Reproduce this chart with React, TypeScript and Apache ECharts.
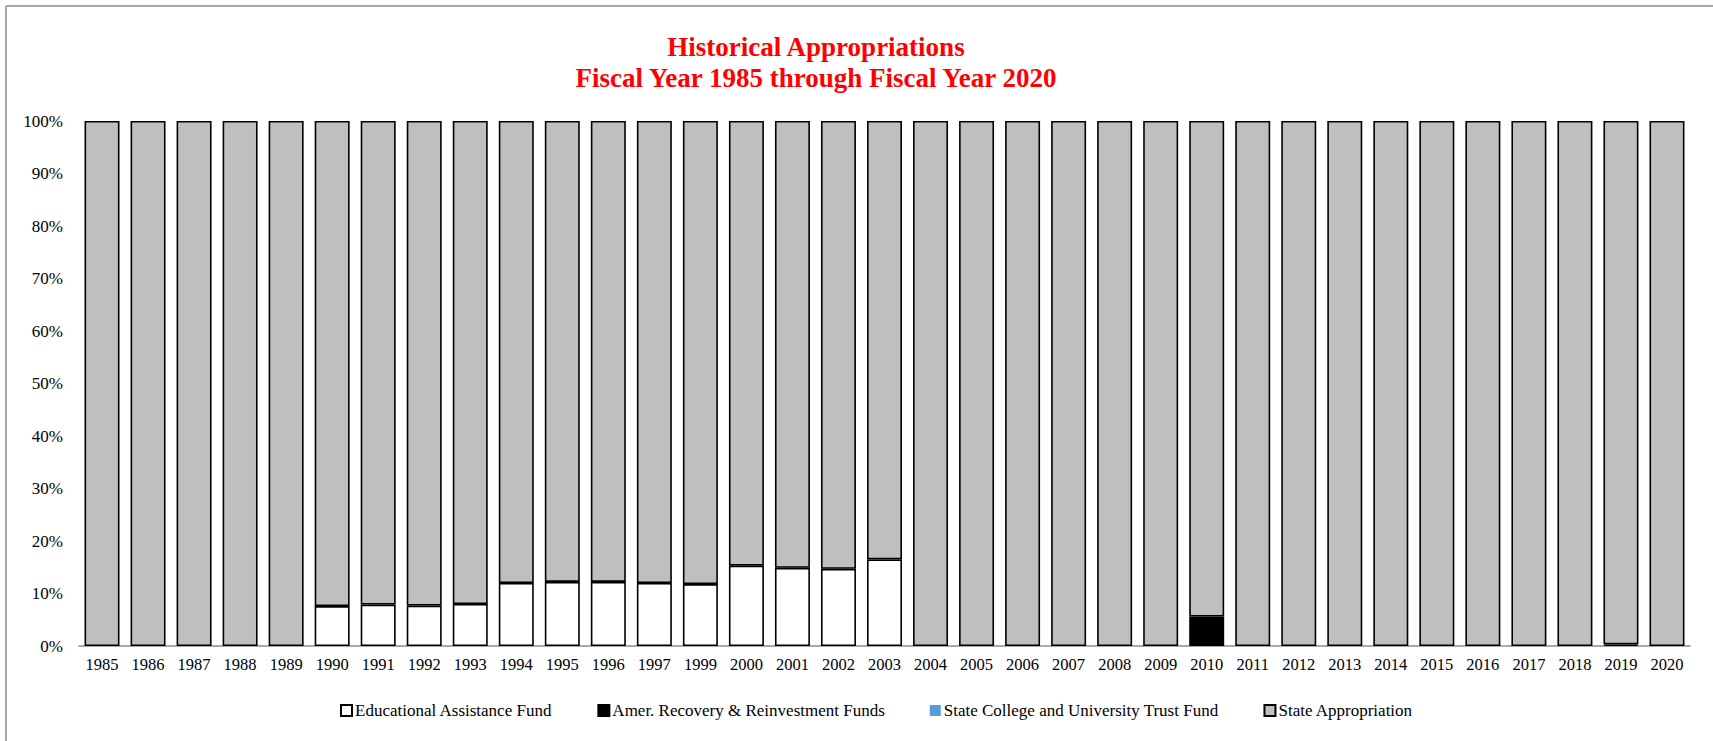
import React, { useEffect, useRef } from "react";
import * as echarts from "echarts";

const years = [
  "1985", "1986", "1987", "1988", "1989", "1990", "1991", "1992", "1993", "1994",
  "1995", "1996", "1997", "1999", "2000", "2001", "2002", "2003", "2004", "2005",
  "2006", "2007", "2008", "2009", "2010", "2011", "2012", "2013", "2014", "2015",
  "2016", "2017", "2018", "2019", "2020",
];

// percent shares of total appropriation
const educationalAssistance = [
  0, 0, 0, 0, 0, 7.6, 7.9, 7.7, 8.0, 12.0,
  12.2, 12.2, 12.0, 11.8, 15.3, 14.9, 14.7, 16.5, 0, 0,
  0, 0, 0, 0, 0, 0, 0, 0, 0, 0,
  0, 0, 0, 0.3, 0,
];
const recoveryFunds = [
  0, 0, 0, 0, 0, 0, 0, 0, 0, 0,
  0, 0, 0, 0, 0, 0, 0, 0, 0, 0,
  0, 0, 0, 0, 5.6, 0, 0, 0, 0, 0,
  0, 0, 0, 0, 0,
];
const trustFund = [
  0, 0, 0, 0, 0, 0, 0, 0, 0, 0,
  0, 0, 0, 0, 0, 0, 0, 0, 0, 0,
  0, 0, 0, 0, 0, 0, 0, 0, 0, 0,
  0, 0, 0, 0, 0,
];
const stateAppropriation = [
  100, 100, 100, 100, 100, 92.4, 92.1, 92.3, 92.0, 88.0,
  87.8, 87.8, 88.0, 88.2, 84.7, 85.1, 85.3, 83.5, 100, 100,
  100, 100, 100, 100, 94.4, 100, 100, 100, 100, 100,
  100, 100, 100, 99.7, 100,
];

const yTicks = [0, 10, 20, 30, 40, 50, 60, 70, 80, 90, 100];

const FONT = '"Liberation Serif", "Times New Roman", serif';

const clean = (arr: number[]) => arr.map((v) => (v === 0 ? "-" : v));

export default function App() {
  const ref = useRef<HTMLDivElement>(null);

  useEffect(() => {
    if (!ref.current) return;
    const chart = echarts.init(ref.current, null, { renderer: "svg" });
    const barBase = {
      type: "bar",
      stack: "total",
      barCategoryGap: "24%",
      emphasis: { disabled: true },
    };
    chart.setOption({
      animation: false,
      backgroundColor: "#ffffff",
      title: {
        text: "Historical Appropriations\nFiscal Year 1985 through Fiscal Year 2020",
        left: 816,
        top: 31,
        padding: 0,
        textAlign: "center",
        textStyle: {
          color: "#ff0000",
          fontFamily: FONT,
          fontWeight: "bold",
          fontSize: 27,
          lineHeight: 31,
        },
      },
      graphic: [
        {
          type: "line",
          shape: { x1: 6, y1: 6, x2: 1713, y2: 6 },
          style: { stroke: "#a6a6a6", lineWidth: 2 },
          silent: true,
        },
        {
          type: "line",
          shape: { x1: 6, y1: 6, x2: 6, y2: 741 },
          style: { stroke: "#a6a6a6", lineWidth: 2 },
          silent: true,
        },
      ],
      legend: {
        left: 335,
        top: 697,
        icon: "rect",
        itemWidth: 11,
        itemHeight: 11,
        itemGap: 45,
        textStyle: { fontFamily: FONT, fontSize: 17, color: "#000", padding: [0, 0, 0, -2] },
        selectedMode: false,
        data: [
          "Educational Assistance Fund",
          "Amer. Recovery & Reinvestment Funds",
          "State College and University Trust Fund",
          "State Appropriation",
        ],
      },
      grid: { left: 79, right: 23, top: 121, bottom: 95, containLabel: false },
      xAxis: {
        type: "category",
        data: years,
        axisTick: { show: false },
        axisLine: { show: true, lineStyle: { color: "#8c8c8c", width: 1.5 } },
        axisLabel: { fontFamily: FONT, fontSize: 16.5, color: "#000", margin: 10, interval: 0 },
      },
      yAxis: {
        type: "value",
        min: yTicks[0],
        max: yTicks[yTicks.length - 1],
        interval: 10,
        splitLine: { show: false },
        axisLine: { show: false },
        axisTick: { show: false },
        axisLabel: {
          fontFamily: FONT,
          fontSize: 17,
          color: "#000",
          margin: 16,
          formatter: "{value}%",
        },
      },
      series: [
        {
          ...barBase,
          name: "Educational Assistance Fund",
          data: clean(educationalAssistance),
          itemStyle: { color: "#ffffff", borderColor: "#000", borderWidth: 1.6 },
        },
        {
          ...barBase,
          name: "Amer. Recovery & Reinvestment Funds",
          data: clean(recoveryFunds),
          itemStyle: { color: "#000000", borderColor: "#000", borderWidth: 1.6 },
        },
        {
          ...barBase,
          name: "State College and University Trust Fund",
          data: clean(trustFund),
          itemStyle: { color: "#5b9bd5", borderWidth: 0 },
        },
        {
          ...barBase,
          name: "State Appropriation",
          data: clean(stateAppropriation),
          itemStyle: { color: "#bfbfbf", borderColor: "#000", borderWidth: 1.6 },
        },
      ],
    });
    return () => chart.dispose();
  }, []);

  return (
    <div
      ref={ref}
      style={{ position: "fixed", left: 0, top: 0, width: 1713, height: 741 }}
    />
  );
}
